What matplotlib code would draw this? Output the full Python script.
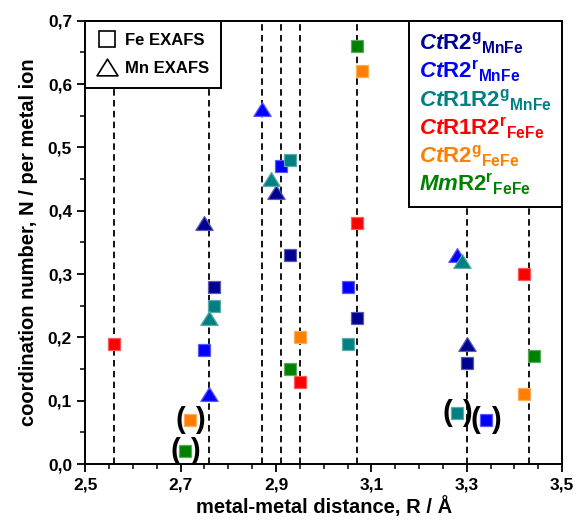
import matplotlib
matplotlib.use("Agg")
import matplotlib.pyplot as plt
from matplotlib.lines import Line2D
from matplotlib.path import Path
from matplotlib.colors import to_rgb
from matplotlib.ticker import FixedLocator, MultipleLocator, FuncFormatter

plt.rcParams['font.family'] = ['Liberation Sans', 'DejaVu Sans']
plt.rcParams['font.weight'] = 'bold'
plt.rcParams['mathtext.fontset'] = 'custom'
plt.rcParams['mathtext.rm'] = 'Liberation Sans:bold'
plt.rcParams['mathtext.it'] = 'Liberation Sans:italic:bold'
plt.rcParams['mathtext.bf'] = 'Liberation Sans:bold'

# ---- data -------------------------------------------------------------
series_labels = [
    r'$\mathit{Ct}\mathrm{R2}^{\mathrm{g}}{}_{\mathrm{MnFe}}$',
    r'$\mathit{Ct}\mathrm{R2}^{\mathrm{r}}{}_{\mathrm{MnFe}}$',
    r'$\mathit{Ct}\mathrm{R1R2}^{\mathrm{g}}{}_{\mathrm{MnFe}}$',
    r'$\mathit{Ct}\mathrm{R1R2}^{\mathrm{r}}{}_{\mathrm{FeFe}}$',
    r'$\mathit{Ct}\mathrm{R2}^{\mathrm{g}}{}_{\mathrm{FeFe}}$',
    r'$\mathit{Mm}\mathrm{R2}^{\mathrm{r}}{}_{\mathrm{FeFe}}$',
]
series_colors = ['#000090', '#0000FF', '#008080', '#FF0000', '#FF7F00', '#008000']

# Fe EXAFS (squares): distance R, coordination number N
fe_R = [
    [2.77, 2.93, 3.07, 3.30],
    [2.75, 2.91, 3.05, 3.34],
    [2.77, 2.93, 3.05, 3.28],
    [2.56, 2.95, 3.07, 3.42],
    [2.72, 2.95, 3.08, 3.42],
    [2.71, 2.93, 3.07, 3.44],
]
fe_N = [
    [0.28, 0.33, 0.23, 0.16],
    [0.18, 0.47, 0.28, 0.07],
    [0.25, 0.48, 0.19, 0.08],
    [0.19, 0.13, 0.38, 0.30],
    [0.07, 0.20, 0.62, 0.11],
    [0.02, 0.15, 0.66, 0.17],
]
# points shown in parentheses (series index, point index)
bracketed = [(1, 3), (2, 3), (4, 0), (5, 0)]

# Mn EXAFS (triangles)
mn_R = [
    [2.75, 2.90, 3.30],
    [2.76, 2.87, 3.28],
    [2.76, 2.89, 3.29],
    [], [], [],
]
mn_N = [
    [0.38, 0.43, 0.19],
    [0.11, 0.56, 0.33],
    [0.23, 0.45, 0.32],
    [], [], [],
]

guide_R = [2.56, 2.76, 2.87, 2.91, 2.95, 3.07, 3.30, 3.43]

x_ticks = [2.5, 2.7, 2.9, 3.1, 3.3, 3.5]
y_ticks = [0.0, 0.1, 0.2, 0.3, 0.4, 0.5, 0.6, 0.7]

# ---- figure -----------------------------------------------------------
fig = plt.figure(figsize=(5.76, 5.24), dpi=100)
ax = fig.add_axes([0.148, 0.1145, 0.828, 0.846])

tri = Path([(0, 0.8), (-1, -0.8), (1, -0.8), (0, 0.8)],
           [Path.MOVETO, Path.LINETO, Path.LINETO, Path.CLOSEPOLY])


def lighter(c, f=0.35):
    r, g, b = to_rgb(c)
    return (r + (1 - r) * f, g + (1 - g) * f, b + (1 - b) * f)


for x in guide_R:
    ax.axvline(x, color='black', lw=1.3, dashes=(3.6, 2.4), zorder=1)

for i, col in enumerate(series_colors):
    ax.plot(fe_R[i], fe_N[i], ls='none', marker='s', ms=8.6,
            mfc=col, mec=lighter(col), mew=0.9, zorder=3)
    if mn_R[i]:
        ax.plot(mn_R[i], mn_N[i], ls='none', marker=tri, ms=12.5,
                mfc=col, mec=lighter(col), mew=0.9, zorder=3)

for si, pi in bracketed:
    for txt, dx in (('(', -7.2), (')', 7.2)):
        ax.annotate(txt, (fe_R[si][pi], fe_N[si][pi]), xytext=(dx, 0),
                    textcoords='offset points', ha='center', va='center',
                    fontsize=21, fontweight='bold', zorder=4)

ax.set_xlim(2.5, 3.5)
ax.set_ylim(0.0, 0.7)
ax.xaxis.set_major_locator(FixedLocator(x_ticks))
ax.yaxis.set_major_locator(FixedLocator(y_ticks))
ax.xaxis.set_minor_locator(MultipleLocator(0.05))
ax.yaxis.set_minor_locator(MultipleLocator(0.05))
comma = FuncFormatter(lambda v, p: f"{v:.1f}".replace('.', ','))
ax.xaxis.set_major_formatter(comma)
ax.yaxis.set_major_formatter(comma)
ax.tick_params(which='major', direction='out', length=6, width=1.3,
               labelsize=12.5, top=False, right=False)
ax.tick_params(which='minor', direction='out', length=3.5, width=1.1,
               top=False, right=False)
for lab in ax.get_xticklabels() + ax.get_yticklabels():
    lab.set_fontweight('bold')
for s in ax.spines.values():
    s.set_linewidth(1.4)

ax.set_xlabel('metal-metal distance, R / Å', fontsize=14.5,
              fontweight='bold', labelpad=3)
ax.set_ylabel('coordination number, N / per metal ion', fontsize=14.5,
              fontweight='bold', labelpad=7)

# method legend
mh = [
    Line2D([], [], ls='none', marker='s', ms=11, mfc='none',
           mec='black', mew=1.2),
    Line2D([], [], ls='none', marker=tri, ms=15, mfc='none',
           mec='black', mew=1.2),
]
leg1 = ax.legend(mh, ['Fe EXAFS', 'Mn EXAFS'], loc='upper left',
                 borderaxespad=0, fancybox=False, framealpha=1,
                 edgecolor='black', prop={'size': 12, 'weight': 'bold'},
                 handlelength=1.2, handletextpad=0.45, labelspacing=0.8,
                 borderpad=0.72)
leg1.get_frame().set_linewidth(1.4)
ax.add_artist(leg1)

# sample legend
sh = [Line2D([], [], ls='none') for _ in series_labels]
leg2 = ax.legend(sh, series_labels, loc='upper right', borderaxespad=0,
                 fancybox=False, framealpha=1, edgecolor='black',
                 prop={'size': 16}, handlelength=0, handletextpad=0,
                 labelspacing=0.13, borderpad=0.45,
                 labelcolor=series_colors)
leg2.get_frame().set_linewidth(1.4)

fig.savefig('out.png', dpi=100)
